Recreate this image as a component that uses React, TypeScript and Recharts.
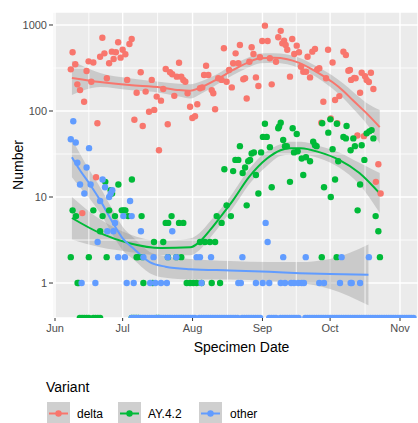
import {
  ComposedChart,
  Scatter,
  Line,
  Area,
  XAxis,
  YAxis,
  CartesianGrid,
} from "recharts";

// days counted from 1 June
const MONTH_DAYS = [0, 30, 61, 92, 122, 153];
const MONTH_LABELS = ["Jun", "Jul", "Aug", "Sep", "Oct", "Nov"];
const MINOR_DAYS = [15, 45.5, 76.5, 107, 137.5];
const Y_TICKS = [1, 10, 100, 1000];
const Y_MINOR = [3.162, 31.62, 316.2];

const X_MIN = -0.89;
const X_MAX = 160.98;
const Y_MIN = 0.392;
const Y_MAX = 1416;

const VARIANTS = ["delta", "AY.4.2", "other"];
const COLORS = ["#F8766D", "#00BA38", "#619CFF"];

// [day, count]
const DELTA_PTS: [number, number][] = [
  [7, 305], [7.8, 482], [9, 349], [9.9, 204], [11.1, 175], [12.1, 6.5], [12.9, 128], [14, 292],
  [14.9, 378], [16.1, 219], [17, 366], [18.2, 17], [18.8, 72], [20, 428], [21, 711], [21.9, 468],
  [23, 240], [24, 359], [25.2, 490], [26, 403], [27, 482], [28, 630], [29.1, 417], [30, 515],
  [31.2, 457], [32, 230], [33, 600], [34, 687], [35.2, 79], [36.2, 163], [38, 282], [38.9, 67],
  [40.2, 168], [41.7, 98], [42.9, 230], [44, 103], [45.1, 147], [46.1, 35], [47, 132], [48, 180],
  [49.1, 308], [50, 70], [51, 282], [52, 267], [52.9, 150], [54, 251], [55, 364], [56, 251],
  [56.9, 230], [57.8, 219], [58.8, 161], [59.9, 112], [60.9, 83], [62.1, 87], [63.1, 120],
  [64.3, 184], [65.3, 188], [66.1, 262], [67, 336], [68, 262], [69.5, 175], [70.2, 161],
  [71, 105], [72.4, 240], [73.9, 230], [74.9, 537], [76.1, 219], [77.2, 300], [78.4, 188],
  [79, 359], [80.1, 468], [81.3, 359], [82, 585], [83.5, 234], [84.3, 240], [85, 140],
  [86.2, 374], [87.2, 550], [88, 460], [89.1, 246], [90.2, 195], [90.9, 421], [91.9, 652],
  [93.1, 982], [94.3, 652], [95.3, 410], [96.1, 204], [98, 374], [99, 720], [100.1, 855],
  [100.8, 612], [101.6, 657], [102.3, 585], [103, 515], [104.2, 251], [105.2, 687], [106.1, 460],
  [107.2, 575], [108.2, 482], [109.1, 327], [110.1, 286], [111.3, 286], [112, 428], [113.1, 246],
  [114.1, 490], [115.3, 527], [116.3, 305], [117.2, 315], [118.1, 73], [119, 128], [120.2, 240],
  [121.1, 515], [122.3, 82], [123.1, 366], [124.2, 134], [125.2, 72], [126.1, 149], [127.9, 490],
  [129, 448], [130.1, 294], [130.8, 300], [131.3, 230], [132.7, 243], [133.3, 240], [134.1, 52],
  [135.3, 163], [136, 279], [137, 51], [137.5, 254], [138.2, 230], [139.2, 217], [140.1, 279],
  [141.2, 180], [142.3, 15], [143.4, 24], [144.4, 11],
];

const AY42_PTS: [number, number][] = [
  [7, 2], [7.8, 7], [9.3, 6], [10, 1], [10.5, 1], [15, 2], [17, 7], [20, 4], [21.1, 6], [22.3, 15],
  [22.9, 2], [24, 7], [24.7, 12], [25.3, 11], [26.6, 6], [28.1, 14], [29.6, 7], [30.5, 7],
  [31.2, 7], [32.4, 6], [34.1, 16], [36.2, 2], [36.7, 2], [38.4, 6], [38.8, 2], [39.2, 1],
  [43.3, 1], [43.9, 3], [48, 3], [49.1, 5], [50.1, 2], [50.2, 5], [51.7, 6], [53.8, 2], [55, 5],
  [56, 2], [56.9, 5], [58.4, 1], [59.9, 1], [61.3, 1], [62.8, 1], [64.3, 3], [65, 1], [66.5, 3],
  [68.7, 3], [69.5, 1], [71, 3], [71.7, 6], [73.2, 1], [73.9, 5], [75.1, 21], [76.1, 8], [78, 6],
  [79, 20], [80, 27], [81.3, 27], [82, 39], [83.2, 19], [84.3, 22], [85, 8], [85.7, 26],
  [86.5, 27], [87.2, 32], [88.2, 33], [89.1, 18], [90.2, 11], [91.4, 33], [92.2, 50], [93.1, 71],
  [93.9, 50], [95.3, 38], [96.1, 13], [99, 63], [99.4, 66], [100.1, 73], [101.2, 46], [102, 39],
  [102.8, 39], [104.2, 15], [105.4, 63], [106, 33], [107.2, 54], [107.6, 34], [109.4, 28],
  [110.1, 18], [111.3, 29], [113.1, 26], [114.5, 44], [115.3, 40], [116, 39], [118.3, 2],
  [118.5, 72], [119.3, 13], [121.2, 56], [122.1, 80], [122.3, 10], [123.1, 36], [124.2, 16],
  [124.9, 2], [125, 71], [125.6, 26], [127.9, 50], [129, 48], [129.3, 67], [131.1, 35],
  [132.3, 48], [133, 39], [134.2, 7], [135.3, 14], [136, 40], [137.2, 27], [138.2, 55],
  [139.4, 58], [140.4, 60], [141.2, 48], [142.2, 6], [143.4, 4], [144.1, 2],
];

const OTHER_PTS: [number, number][] = [
  [7, 47], [8.1, 76], [9.2, 43], [9.9, 25], [11.1, 14], [11.8, 1], [13, 11], [14, 22], [15.1, 37],
  [15.8, 14], [17.9, 1], [18.9, 3], [20, 9], [21.1, 16], [22.2, 13], [23.2, 4], [24, 10],
  [24.7, 11], [25.4, 12], [25.9, 4], [26.6, 5], [28, 2], [30.3, 6], [31, 2], [31.8, 1], [33.3, 9],
  [34, 6], [34.9, 1], [38.1, 4], [39.2, 2], [42.2, 1], [43.7, 2], [44.5, 1], [47, 1], [49.6, 1],
  [50, 2], [52, 4], [53.8, 2], [62.8, 2], [64.3, 2], [65, 1], [69.2, 2], [81.3, 1], [82.4, 1],
  [83.1, 2], [89.1, 1], [92.1, 1], [93.4, 5], [94.3, 3], [95, 1], [100.1, 1], [101.2, 2],
  [102, 1], [104.7, 1], [106, 1], [107.9, 1], [109.4, 1], [110.4, 1], [111.2, 2], [117.2, 1],
  [119.3, 1], [126.4, 1], [127.1, 2], [131.1, 1], [131.6, 1], [135.3, 1], [139.2, 2],
];

// days with a count of zero (drawn on the lower edge, like ggplot's -Inf)
const AY42_ZERO_DAYS = [11, 12, 13, 14, 15, 17, 18, 19, 20, 34, 35, 36, 37, 45, 46];
const OTHER_ZERO_DAYS = [
  34, 35, 36, 37, 38, 39, 40, 41, 42, 43, 44, 45, 46, 47, 48, 49, 50, 51, 52, 53, 54, 55, 56, 57,
  58, 59, 60, 61, 62, 64, 65, 66, 67, 68, 69, 70, 71, 72, 73, 74, 75, 76, 77, 78, 79, 80, 81, 83,
  84, 85, 86, 87, 88, 89, 90, 91, 95, 96, 97, 98, 100, 101, 102, 103, 104, 105, 106, 107, 108,
  111, 112, 113, 114, 115, 116, 117, 118, 119, 120, 121, 122, 123, 124, 125, 126, 127, 128, 129,
  130, 131, 132, 133, 134, 135, 136, 137, 138, 139, 140, 141, 142, 143, 144, 145, 146, 147, 148,
  149, 150, 151, 152, 153, 154, 155, 156, 157, 158, 159,
];

// loess fits with 95% bands
const DELTA_FIT_DAYS = [7.5, 20, 33, 47, 55, 60, 64, 72, 79, 85, 91, 97, 103, 108, 113, 118, 123, 128, 132, 138, 144];
const DELTA_FIT = [242, 217, 200, 188, 175, 172, 185, 235, 300, 360, 410, 415, 400, 365, 316, 265, 217, 170, 134, 95, 65];
const DELTA_LO = [153, 190, 175, 162, 147, 140, 155, 205, 262, 315, 360, 365, 350, 318, 275, 228, 183, 140, 108, 72, 42];
const DELTA_HI = [381, 277, 240, 217, 207, 205, 218, 270, 345, 410, 465, 470, 455, 418, 365, 310, 258, 207, 168, 125, 103];

const AY42_FIT_DAYS = [7.5, 20, 33, 47, 60, 64, 69, 73, 79, 86, 94, 100, 104, 109, 117.5, 126, 135, 144];
const AY42_FIT = [5.7, 3.8, 2.9, 2.55, 2.6, 3.0, 4.2, 5.7, 9.2, 17, 28, 35, 37, 37, 33, 27, 19, 11];
const AY42_LO = [3.2, 2.6, 2.3, 2.1, 2.1, 2.4, 3.4, 4.6, 7.5, 14, 23, 30, 31, 31, 28, 22, 14, 6.5];
const AY42_HI = [10, 5.5, 3.7, 3.1, 3.3, 3.8, 5.3, 7.0, 11.3, 21, 34, 41, 44, 44, 39, 33, 25, 19];

const OTHER_FIT_DAYS = [7.5, 11, 15.5, 20, 25.7, 30, 34.6, 42, 49, 60, 77.6, 95, 108.6, 122, 139];
const OTHER_FIT = [29, 20.6, 14, 9.2, 5.0, 3.3, 2.55, 1.75, 1.55, 1.45, 1.4, 1.35, 1.3, 1.27, 1.25];
const OTHER_LO = [17, 13, 9.5, 6.5, 3.6, 2.4, 1.9, 1.3, 1.15, 1.1, 1.1, 1.05, 1.0, 0.85, 0.55];
const OTHER_HI = [48, 32, 20, 13, 7, 4.5, 3.4, 2.3, 2.05, 1.9, 1.8, 1.75, 1.75, 1.9, 2.8];

const FONT = "'Liberation Sans', Arial, sans-serif";

const toPoints = (pts: [number, number][], zeros: number[]) => [
  ...pts.map(([x, y]) => ({ x, y, zero: false })),
  ...zeros.map((x) => ({ x, y: Y_MIN, zero: true })),
];

const toFit = (days: number[], fit: number[], lo: number[], hi: number[]) =>
  days.map((x, i) => ({ x, fit: fit[i], band: [lo[i], hi[i]] }));

const points = [
  toPoints(DELTA_PTS, []),
  toPoints(AY42_PTS, AY42_ZERO_DAYS),
  toPoints(OTHER_PTS, OTHER_ZERO_DAYS),
];
const fits = [
  toFit(DELTA_FIT_DAYS, DELTA_FIT, DELTA_LO, DELTA_HI),
  toFit(AY42_FIT_DAYS, AY42_FIT, AY42_LO, AY42_HI),
  toFit(OTHER_FIT_DAYS, OTHER_FIT, OTHER_LO, OTHER_HI),
];

// minor grid lines as two-point series across the panel
const minorGrid = [
  ...Y_MINOR.map((v) => [
    { x: X_MIN, g: v },
    { x: X_MAX, g: v },
  ]),
  ...MINOR_DAYS.map((d) => [
    { x: d, g: Y_MIN },
    { x: d, g: Y_MAX },
  ]),
];

const R = 3.2;
const dot = (color: string) => (props: any) => {
  const { cx, cy, payload } = props;
  if (payload && payload.zero) {
    // clipped at the panel edge: only the upper half shows
    return <path d={`M${cx - R},${cy} A${R},${R} 0 0 1 ${cx + R},${cy} Z`} fill={color} />;
  }
  return <circle cx={cx} cy={cy} r={R} fill={color} />;
};

function LegendBox() {
  const keyX = [47, 118, 199];
  const labelX = [77, 148, 230];
  return (
    <svg width={418} height={63} style={{ position: "absolute", left: 0, top: 360 }}>
      <text x={46} y={32} fontSize={14} fontFamily={FONT} fill="#000">
        Variant
      </text>
      {VARIANTS.map((v, i) => (
        <g key={v}>
          <rect x={keyX[i]} y={42} width={23} height={23} fill="#CFCFCF" />
          <line
            x1={keyX[i] + 2}
            x2={keyX[i] + 21}
            y1={53.5}
            y2={53.5}
            stroke={COLORS[i]}
            strokeWidth={2}
          />
          <circle cx={keyX[i] + 11.5} cy={53.5} r={R} fill={COLORS[i]} />
          <text x={labelX[i]} y={58} fontSize={12} fontFamily={FONT} fill="#000">
            {v}
          </text>
        </g>
      ))}
    </svg>
  );
}

export default function App() {
  const tick = { fontSize: 11, fill: "#4D4D4D", fontFamily: FONT };
  return (
    <div
      style={{
        position: "absolute",
        left: 0,
        top: 0,
        width: 418,
        height: 423,
        background: "#fff",
        overflow: "hidden",
      }}
    >
      <ComposedChart width={418} height={360} margin={{ top: 12, right: 0, bottom: 0, left: 0 }}>
        <CartesianGrid fill="#EBEBEB" stroke="#FFFFFF" strokeWidth={1.4} />
        <XAxis
          type="number"
          dataKey="x"
          domain={[X_MIN, X_MAX]}
          allowDataOverflow
          ticks={MONTH_DAYS}
          tickFormatter={(d: number) => MONTH_LABELS[MONTH_DAYS.indexOf(d)] ?? ""}
          height={42}
          tick={tick}
          tickSize={3}
          tickMargin={3}
          axisLine={false}
          tickLine={{ stroke: "#333333" }}
          label={{
            value: "Specimen Date",
            position: "insideBottom",
            offset: 8,
            dx: 6,
            style: { fontSize: 14, fill: "#000", fontFamily: FONT },
          }}
        />
        <YAxis
          type="number"
          dataKey="y"
          scale="log"
          domain={[Y_MIN, Y_MAX]}
          allowDataOverflow
          ticks={Y_TICKS}
          width={53}
          tick={tick}
          tickSize={4}
          tickMargin={2}
          axisLine={false}
          tickLine={{ stroke: "#333333" }}
          label={{
            value: "Number",
            angle: -90,
            position: "insideLeft",
            offset: 18,
            style: { fontSize: 14, fill: "#000", fontFamily: FONT, textAnchor: "middle" },
          }}
        />
        {minorGrid.map((d, i) => (
          <Line
            key={"g" + i}
            data={d}
            dataKey="g"
            type="linear"
            stroke="#FFFFFF"
            strokeWidth={0.8}
            dot={false}
            activeDot={false}
            isAnimationActive={false}
          />
        ))}
        {points.map((d, i) => (
          <Scatter
            key={"p" + i}
            data={d}
            fill={COLORS[i]}
            shape={dot(COLORS[i])}
            isAnimationActive={false}
          />
        ))}
        {fits.map((d, i) => [
          <Area
            key={"a" + i}
            data={d}
            dataKey="band"
            type="monotone"
            fill="#999999"
            fillOpacity={0.4}
            stroke="none"
            isAnimationActive={false}
          />,
          <Line
            key={"l" + i}
            data={d}
            dataKey="fit"
            type="monotone"
            stroke={COLORS[i]}
            strokeWidth={2}
            dot={false}
            isAnimationActive={false}
          />,
        ])}
      </ComposedChart>
      <LegendBox />
    </div>
  );
}
